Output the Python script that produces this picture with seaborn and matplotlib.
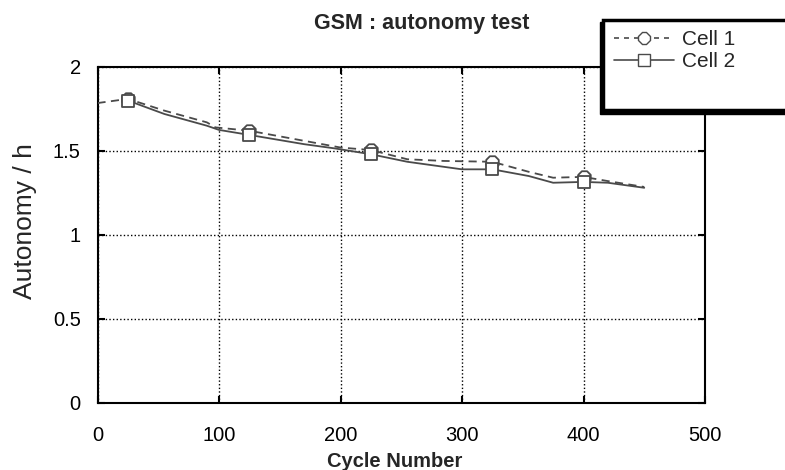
import numpy as np
import pandas as pd
import matplotlib
matplotlib.use("Agg")
import matplotlib.pyplot as plt
from matplotlib.lines import Line2D
from matplotlib.patches import Rectangle
import seaborn as sns

# ---- data ----
cell1_cycles = [0, 25, 55, 90, 97, 125, 170, 200, 225, 255, 285, 325, 355, 375, 400, 420, 450]
cell1_autonomy = [1.785, 1.81, 1.74, 1.67, 1.64, 1.62, 1.56, 1.52, 1.505, 1.45, 1.44, 1.435, 1.375, 1.34, 1.345, 1.32, 1.285]
cell2_cycles = [25, 55, 90, 100, 125, 170, 195, 225, 255, 300, 325, 355, 375, 400, 420, 450]
cell2_autonomy = [1.80, 1.72, 1.65, 1.625, 1.595, 1.54, 1.515, 1.48, 1.435, 1.39, 1.39, 1.35, 1.31, 1.315, 1.31, 1.28]
marker_cycles = [25, 125, 225, 325, 400]
series_names = ["Cell 1", "Cell 2"]
x_ticks = [0, 100, 200, 300, 400, 500]
y_ticks = [0, 0.5, 1, 1.5, 2]
y_tick_labels = ["0", "0.5", "1", "1.5", "2"]

df = pd.concat([
    pd.DataFrame({"cycle": cell1_cycles, "autonomy": cell1_autonomy, "cell": series_names[0]}),
    pd.DataFrame({"cycle": cell2_cycles, "autonomy": cell2_autonomy, "cell": series_names[1]}),
], ignore_index=True)
marks = df[df["cycle"].isin(marker_cycles)]

sns.set_style("ticks")
plt.rcParams["font.family"] = ["Liberation Sans", "DejaVu Sans"]

W, H = 785, 470
fig = plt.figure(figsize=(W / 100, H / 100), dpi=100)
ax = fig.add_axes([97.5 / W, 1 - 402.5 / H, (705 - 97.5) / W, (402.5 - 67) / H])

line_col = "#4a4a4a"
sns.lineplot(data=df, x="cycle", y="autonomy", hue="cell", style="cell",
             palette={"Cell 1": line_col, "Cell 2": line_col},
             dashes={"Cell 1": (4.5, 3), "Cell 2": ""},
             estimator=None, sort=False, legend=False, linewidth=1.3, ax=ax, zorder=3)
mk = {"Cell 1": "8", "Cell 2": "s"}
for name in series_names:
    sub = marks[marks["cell"] == name]
    sns.scatterplot(data=sub, x="cycle", y="autonomy", marker=mk[name],
                    s=95 if name == "Cell 1" else 75, facecolor="white",
                    edgecolor=line_col, linewidth=1.3, ax=ax, zorder=4, legend=False)

ax.set_xlim(0, 500)
ax.set_ylim(0, 2)
ax.set_xticks(x_ticks)
ax.set_yticks(y_ticks)
ax.set_yticklabels(y_tick_labels)
ax.grid(True, color="black", linestyle=(0, (1, 1.6)), linewidth=1.0)
for s in ax.spines.values():
    s.set_visible(True)
    s.set_color("black")
    s.set_linewidth(1.5)
ax.tick_params(axis="both", direction="in", length=5, width=1.5, labelsize=14.5,
               top=True, right=True, colors="black")
ax.tick_params(axis="x", pad=17)
ax.tick_params(axis="y", pad=12)

ax.set_xlabel("Cycle Number", fontsize=14.5, fontweight="bold")
ax.xaxis.set_label_coords(0.49, -0.148)
ax.set_ylabel("Autonomy / h", fontsize=19)
ax.yaxis.set_label_coords(-0.1, 0.54)

fig.text(422 / W, 1 - 23 / H, "GSM : autonomy test", ha="center", va="center",
         fontsize=15.5, fontweight="bold")

# legend box with drop shadow
shadow = Rectangle((600 / W, 1 - 114 / H), 200 / W, 92 / H, transform=fig.transFigure,
                   facecolor="black", edgecolor="black", zorder=10)
box = Rectangle((603 / W, 1 - 110 / H), 200 / W, 90 / H, transform=fig.transFigure,
                facecolor="white", edgecolor="black", linewidth=2.5, zorder=11)
fig.add_artist(shadow)
fig.add_artist(box)
handles = [
    Line2D([], [], color=line_col, linestyle=(0, (3, 3)), linewidth=1.2, marker="8",
           markersize=9, markerfacecolor="white", markeredgecolor=line_col),
    Line2D([], [], color=line_col, linestyle="-", linewidth=1.2, marker="s",
           markersize=8, markerfacecolor="white", markeredgecolor=line_col),
]
leg = fig.legend(handles, series_names, loc="upper left",
                 bbox_to_anchor=(614 / W, 1 - 30 / H), frameon=False,
                 fontsize=15, handlelength=2.9, handletextpad=0.35,
                 labelspacing=0.15, borderpad=0, borderaxespad=0)
leg.set_zorder(12)

fig.savefig("out.png", dpi=100)
